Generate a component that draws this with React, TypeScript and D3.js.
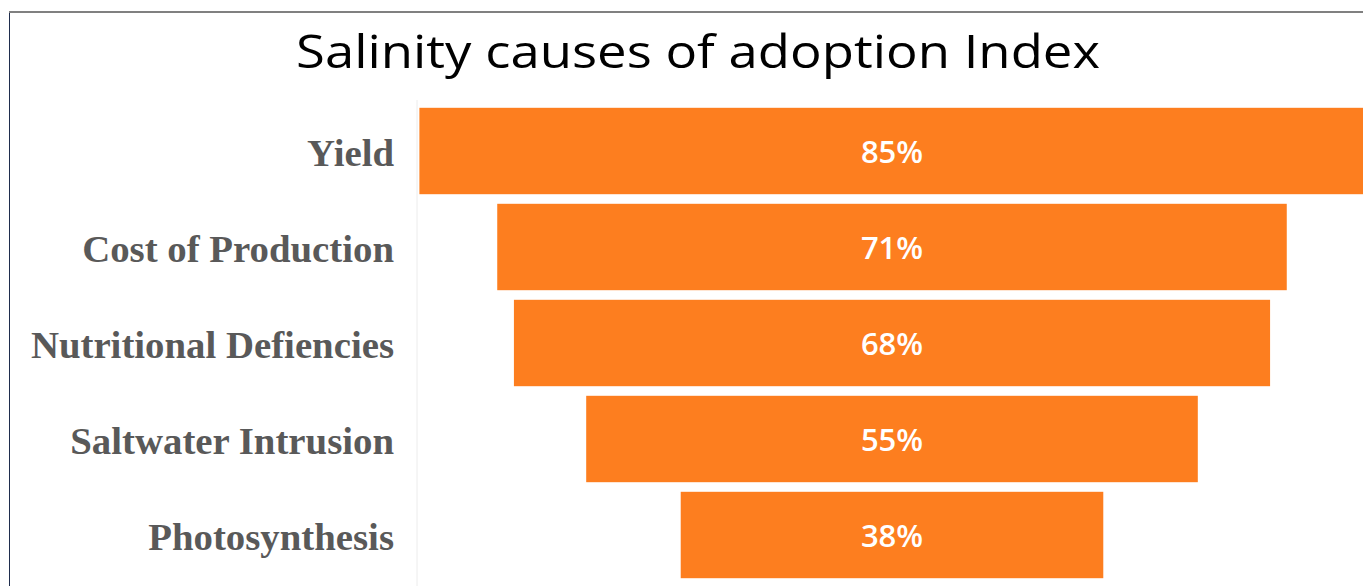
import React from 'react';
import * as d3 from 'd3';

const categories = ['Yield', 'Cost of Production', 'Nutritional Defiencies', 'Saltwater Intrusion', 'Photosynthesis'];
const values = [85, 71, 68, 55, 38];
const title = 'Salinity causes of adoption Index';

const W = 1363;
const H = 586;
const centerX = 892;
const axisX = 417;

const App: React.FC = () => {
  const x = d3.scaleLinear().domain([0, 100]).range([0, 1112]);
  const y = d3.scaleBand<string>()
    .domain(categories)
    .range([103, 583])
    .paddingInner(0.1)
    .paddingOuter(0.05);

  return (
    <svg
      width={W}
      height={H}
      style={{ position: 'absolute', left: 0, top: 0, background: '#fff' }}
    >
      {/* frame */}
      <line x1={9.5} x2={9.5} y1={12} y2={H} stroke="#1f2d4d" strokeWidth={1} />
      <line x1={9} x2={W} y1={12} y2={12} stroke="#808080" strokeWidth={2} />

      <text
        x={698}
        y={68}
        textAnchor="middle"
        fontFamily="'Open Sans', sans-serif"
        fontSize={46}
        fill="#000"
        textLength={804}
        lengthAdjust="spacingAndGlyphs"
      >
        {title}
      </text>

      {/* category axis line */}
      <line x1={axisX} x2={axisX} y1={100} y2={H} stroke="#ececec" strokeWidth={1} />

      {categories.map((c, i) => {
        const w = x(values[i]);
        const yy = y(c)!;
        const cy = yy + y.bandwidth() / 2;
        return (
          <g key={c}>
            <rect x={centerX - w / 2} y={yy} width={w} height={y.bandwidth()} fill="#fd7e1f" />
            <text
              x={centerX}
              y={cy + 12}
              textAnchor="middle"
              fontFamily="'Open Sans', sans-serif"
              fontWeight={600}
              fontSize={31}
              fill="#fff"
            >
              {values[i]}%
            </text>
            <text
              x={394}
              y={cy + 15}
              textAnchor="end"
              fontFamily="'Liberation Serif', serif"
              fontWeight="bold"
              fontSize={38.8}
              fill="#595959"
            >
              {c}
            </text>
          </g>
        );
      })}
    </svg>
  );
};

export default App;
